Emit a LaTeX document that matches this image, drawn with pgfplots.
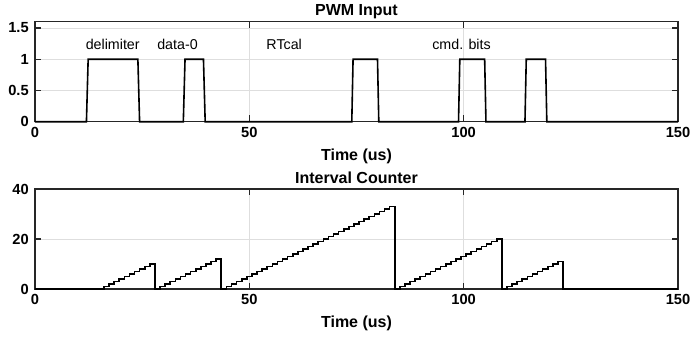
\documentclass[border=0pt]{standalone}
\usepackage{fontspec}
\setmainfont{Liberation Sans}
\usepackage{pgfplots}
\pgfplotsset{compat=1.18}
\definecolor{axcol}{gray}{0.15}
\definecolor{gridcol}{gray}{0.87}
\pgfplotsset{
  every axis title shift=0pt,
  mystyle/.style={
    scale only axis,
    width=482.25pt,
    height=75pt,
    xmin=0, xmax=150,
    xtick={0,50,100,150},
    axis line style={axcol, line width=0.9pt},
    tick style={axcol, line width=0.9pt},
    tick align=inside,
    xtick pos=both, ytick pos=both,
    major tick length=4.8pt,
    grid=major,
    major grid style={gridcol, line width=0.6pt},
    /pgf/number format/assume math mode=true,
    tick label style={font=\fontsize{11}{13}\selectfont\bfseries, text=black},
    xticklabel style={yshift=-0.3pt},
    yticklabel style={xshift=-1.2pt},
    xlabel={Time (us)},
    xlabel style={font=\fontsize{12}{14}\selectfont\bfseries, at={(axis description cs:0.5,0)}, anchor=center, yshift=-26pt},
    title style={font=\fontsize{12}{14}\selectfont\bfseries, at={(axis description cs:0.5,1)}, anchor=base, yshift=4.5pt},
    clip=false,
    axis on top=false,
  }
}
\begin{document}
\begin{tikzpicture}
\useasboundingbox (-26.25pt,-161.5pt) rectangle (491.25pt,91.3pt);
\begin{axis}[mystyle, at={(0,0)}, anchor=south west,
  ymin=0, ymax=1.6, ytick={0,0.5,1,1.5},
  yticklabels={0,0.5,1,1.5},
  title={PWM Input}]
\addplot[black, line width=1.2pt] coordinates {
(0,0)(12,0)(12.4,1)(24,1)(24.4,0)(34.6,0)(35,1)(39.3,1)(39.7,0)
(73.9,0)(74.2,1)(79.9,1)(80.2,0)(98.8,0)(99.1,1)(104.9,1)(105.2,0)
(114.3,0)(114.6,1)(119.1,1)(119.4,0)(150,0)};
\node[anchor=base, font=\fontsize{10.7}{12}\selectfont] at (axis cs:18.13,1.16) {delimiter};
\node[anchor=base, font=\fontsize{10.7}{12}\selectfont] at (axis cs:33.24,1.16) {data-0};
\node[anchor=base, font=\fontsize{10.7}{12}\selectfont] at (axis cs:58.13,1.16) {RTcal};
\node[anchor=base, font=\fontsize{10.7}{12}\selectfont] at (axis cs:99.5,1.16) {cmd. bits};
\end{axis}
\begin{axis}[mystyle, at={(0,-125.5pt)}, anchor=south west,
  ymin=0, ymax=40, ytick={0,20,40},
  title={Interval Counter}]
\addplot[black, line width=1.2pt, const plot mark left] coordinates {
(0,0)
(16.09,1)(17.28,2)(18.47,3)(19.66,4)(20.85,5)(22.04,6)(23.23,7)(24.42,8)(25.61,9)(26.80,10)
(27.99,0)
(29.18,1)(30.37,2)(31.56,3)(32.75,4)(33.94,5)(35.13,6)(36.32,7)(37.51,8)(38.70,9)(39.89,10)(41.08,11)(42.27,12)
(43.46,0)
(44.65,1)(45.84,2)(47.03,3)(48.22,4)(49.41,5)(50.60,6)(51.79,7)(52.98,8)(54.17,9)(55.36,10)
(56.55,11)(57.74,12)(58.93,13)(60.12,14)(61.31,15)(62.50,16)(63.69,17)(64.88,18)(66.07,19)(67.26,20)
(68.45,21)(69.64,22)(70.83,23)(72.02,24)(73.21,25)(74.40,26)(75.59,27)(76.78,28)(77.97,29)(79.16,30)
(80.35,31)(81.54,32)(82.73,33)
(83.92,0)
(85.11,1)(86.30,2)(87.49,3)(88.68,4)(89.87,5)(91.06,6)(92.25,7)(93.44,8)(94.63,9)(95.82,10)
(97.01,11)(98.20,12)(99.39,13)(100.58,14)(101.77,15)(102.96,16)(104.15,17)(105.34,18)(106.53,19)(107.72,20)
(108.91,0)
(110.10,1)(111.29,2)(112.48,3)(113.67,4)(114.86,5)(116.05,6)(117.24,7)(118.43,8)(119.62,9)(120.81,10)(122.00,11)
(123.19,0)
(150,0)};
\end{axis}
\end{tikzpicture}
\end{document}
